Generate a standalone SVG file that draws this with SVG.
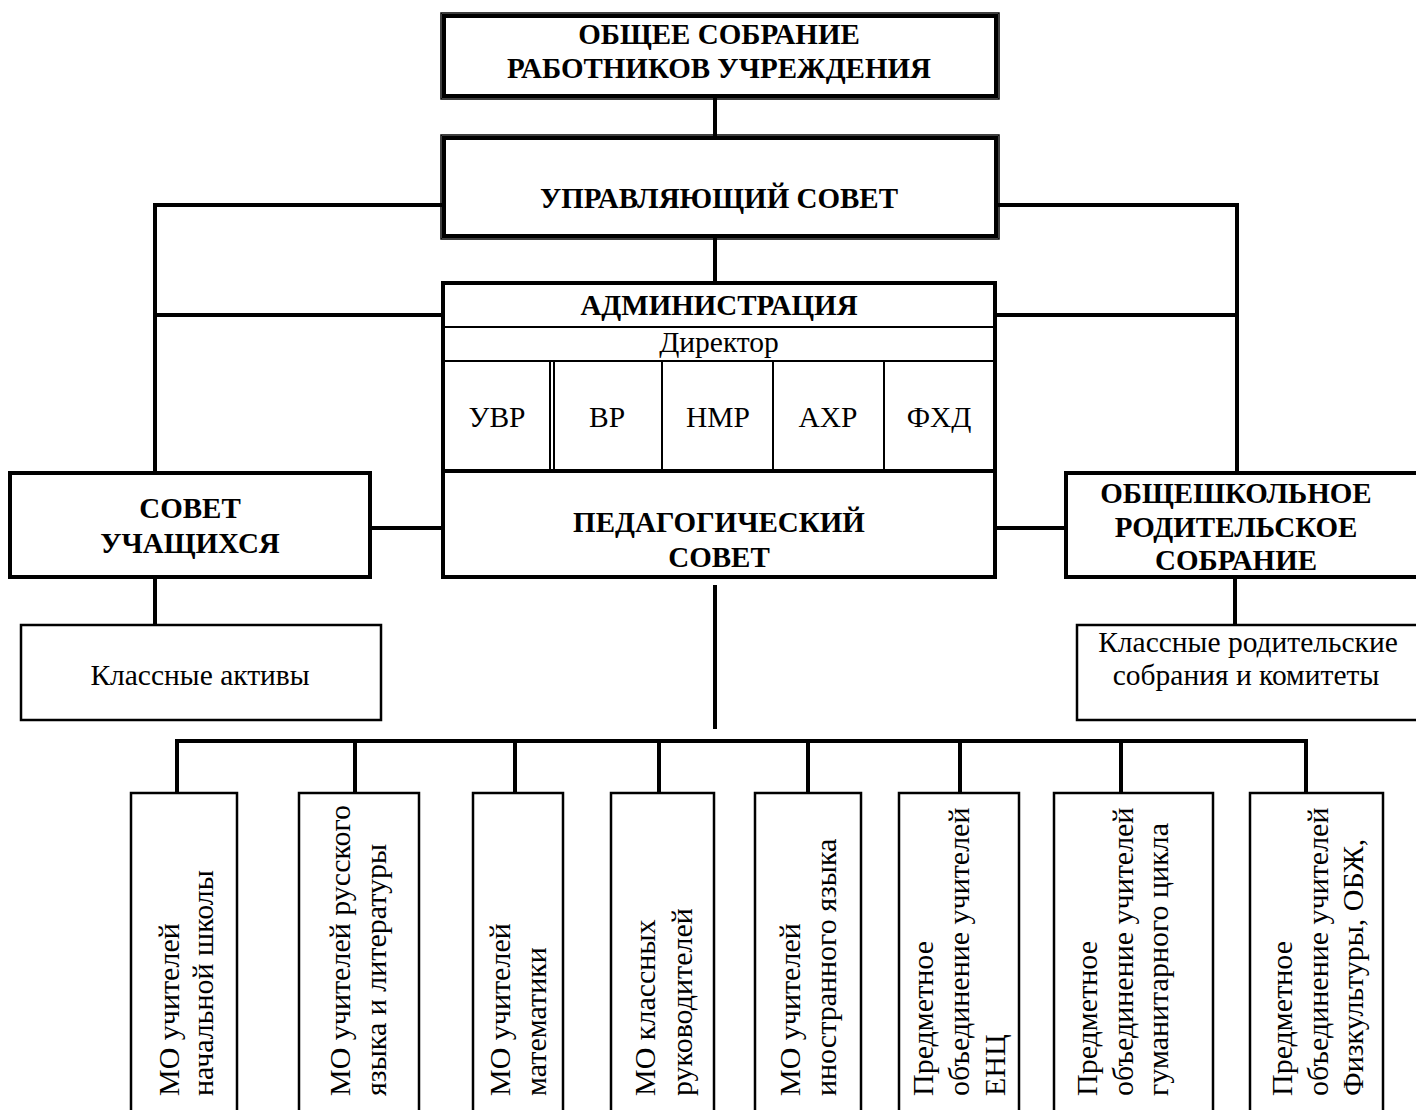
<svg xmlns="http://www.w3.org/2000/svg" width="1416" height="1110" viewBox="0 0 1416 1110">
<style>
.b{font-family:"Liberation Serif","Times New Roman",serif;font-weight:bold;font-size:29px;text-anchor:middle;fill:#000}
.r{font-family:"Liberation Serif","Times New Roman",serif;font-size:29.5px;text-anchor:middle;fill:#000}
.v{font-family:"Liberation Serif","Times New Roman",serif;font-size:30px;fill:#000}
.thick{fill:#fff;stroke:#000;stroke-width:4}
.thin{fill:#fff;stroke:#000;stroke-width:2.5}
.hair{fill:none;stroke:#000;stroke-width:1.5}
.ln{stroke:#000;stroke-width:2}
.c{stroke:#000;stroke-width:4;fill:none}
</style>
<rect width="1416" height="1110" fill="#fff"/>
<g id="connectors">
<line class="c" x1="715" y1="97" x2="715" y2="137"/>
<line class="c" x1="715" y1="237" x2="715" y2="283"/>
<polyline class="c" points="443,205 155,205 155,483"/>
<polyline class="c" points="997,205 1237,205 1237,481"/>
<line class="c" x1="155" y1="315" x2="443" y2="315"/>
<line class="c" x1="995" y1="315" x2="1237" y2="315"/>
<line class="c" x1="370" y1="528" x2="443" y2="528"/>
<line class="c" x1="995" y1="528" x2="1066" y2="528"/>
<line class="c" x1="155" y1="577" x2="155" y2="625"/>
<line class="c" x1="1235" y1="577" x2="1235" y2="630"/>
<line class="c" x1="715" y1="585" x2="715" y2="729"/>
<line class="c" x1="175" y1="741" x2="1308" y2="741"/>
<line class="c" x1="177" y1="741" x2="177" y2="793"/>
<line class="c" x1="355" y1="741" x2="355" y2="793"/>
<line class="c" x1="515" y1="741" x2="515" y2="793"/>
<line class="c" x1="659" y1="741" x2="659" y2="793"/>
<line class="c" x1="808" y1="741" x2="808" y2="793"/>
<line class="c" x1="960" y1="741" x2="960" y2="793"/>
<line class="c" x1="1121" y1="741" x2="1121" y2="793"/>
<line class="c" x1="1306" y1="741" x2="1306" y2="793"/>
</g>
<g id="obshee-sobranie">
<rect class="hair" x="441" y="13" width="558" height="86"/>
<rect class="thick" x="444" y="16" width="552" height="80"/>
<text class="b" x="719" y="44">ОБЩЕЕ СОБРАНИЕ</text>
<text class="b" x="719" y="78">РАБОТНИКОВ УЧРЕЖДЕНИЯ</text>
</g>
<g id="upravlyayushchiy-sovet">
<rect class="hair" x="441" y="135" width="558" height="104"/>
<rect class="thick" x="444" y="138" width="552" height="98"/>
<text class="b" x="719" y="208">УПРАВЛЯЮЩИЙ СОВЕТ</text>
</g>
<g id="administraciya">
<rect class="thick" x="443" y="283" width="552" height="294"/>
<line class="ln" x1="443" y1="327" x2="995" y2="327"/>
<line class="ln" x1="443" y1="361" x2="995" y2="361"/>
<line class="c" x1="443" y1="471" x2="995" y2="471"/>
<line class="ln" x1="550" y1="361" x2="550" y2="471"/>
<line class="ln" x1="554" y1="361" x2="554" y2="471"/>
<line class="ln" x1="662" y1="361" x2="662" y2="471"/>
<line class="ln" x1="773" y1="361" x2="773" y2="471"/>
<line class="ln" x1="884" y1="361" x2="884" y2="471"/>
<text class="b" x="719" y="315">АДМИНИСТРАЦИЯ</text>
<text class="r" x="719" y="352">Директор</text>
<text class="r" x="497" y="427">УВР</text>
<text class="r" x="607" y="427">ВР</text>
<text class="r" x="718" y="427">НМР</text>
<text class="r" x="828" y="427">АХР</text>
<text class="r" x="939" y="427">ФХД</text>
<text class="b" x="719" y="532">ПЕДАГОГИЧЕСКИЙ</text>
<text class="b" x="719" y="567">СОВЕТ</text>
</g>
<g id="sovet-uchashchikhsya">
<rect class="thick" x="10" y="473" width="360" height="104"/>
<text class="b" x="190" y="518">СОВЕТ</text>
<text class="b" x="190" y="553">УЧАЩИХСЯ</text>
</g>
<g id="obshcheshkolnoe">
<rect class="thick" x="1066" y="473" width="370" height="104"/>
<text class="b" x="1236" y="503">ОБЩЕШКОЛЬНОЕ</text>
<text class="b" x="1236" y="537">РОДИТЕЛЬСКОЕ</text>
<text class="b" x="1236" y="570">СОБРАНИЕ</text>
</g>
<g id="klassnye-aktivy">
<rect class="thin" x="21" y="625" width="360" height="95"/>
<text class="r" x="200" y="685">Классные активы</text>
</g>
<g id="klassnye-roditelskie">
<rect class="thin" x="1077" y="625" width="360" height="95"/>
<text class="r" x="1248" y="652">Классные родительские</text>
<text class="r" x="1246" y="685">собрания и комитеты</text>
</g>
<g id="mo-1">
<rect class="thin" x="131" y="793" width="106" height="330"/>
<text class="v" transform="translate(179,1096) rotate(-90)">МО учителей</text>
<text class="v" transform="translate(213,1096) rotate(-90)">начальной школы</text>
</g>
<g id="mo-2">
<rect class="thin" x="299" y="793" width="120" height="330"/>
<text class="v" transform="translate(350,1096) rotate(-90)">МО учителей русского</text>
<text class="v" transform="translate(386,1096) rotate(-90)">языка и литературы</text>
</g>
<g id="mo-3">
<rect class="thin" x="473" y="793" width="90" height="330"/>
<text class="v" transform="translate(510,1096) rotate(-90)">МО учителей</text>
<text class="v" transform="translate(546,1096) rotate(-90)">математики</text>
</g>
<g id="mo-4">
<rect class="thin" x="611" y="793" width="103" height="330"/>
<text class="v" transform="translate(655,1096) rotate(-90)">МО классных</text>
<text class="v" transform="translate(692,1096) rotate(-90)">руководителей</text>
</g>
<g id="mo-5">
<rect class="thin" x="755" y="793" width="106" height="330"/>
<text class="v" transform="translate(800,1096) rotate(-90)">МО учителей</text>
<text class="v" transform="translate(836,1096) rotate(-90)">иностранного языка</text>
</g>
<g id="po-enc">
<rect class="thin" x="899" y="793" width="120" height="330"/>
<text class="v" transform="translate(933,1096) rotate(-90)">Предметное</text>
<text class="v" transform="translate(969,1096) rotate(-90)">объединение учителей</text>
<text class="v" transform="translate(1005,1096) rotate(-90)">ЕНЦ</text>
</g>
<g id="po-gum">
<rect class="thin" x="1054" y="793" width="159" height="330"/>
<text class="v" transform="translate(1097,1096) rotate(-90)">Предметное</text>
<text class="v" transform="translate(1133,1096) rotate(-90)">объединение учителей</text>
<text class="v" transform="translate(1168,1096) rotate(-90)">гуманитарного цикла</text>
</g>
<g id="po-fiz">
<rect class="thin" x="1250" y="793" width="133" height="330"/>
<text class="v" transform="translate(1292,1096) rotate(-90)">Предметное</text>
<text class="v" transform="translate(1328,1096) rotate(-90)">объединение учителей</text>
<text class="v" transform="translate(1363,1096) rotate(-90)">Физкультуры, ОБЖ,</text>
</g>
</svg>
